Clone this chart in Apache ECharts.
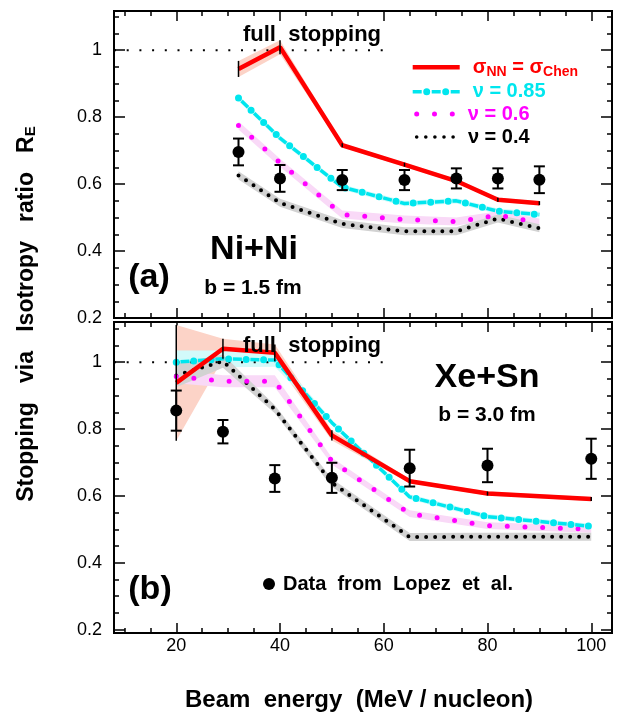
<!DOCTYPE html>
<html>
<head>
<meta charset="utf-8">
<script src="https://cdn.jsdelivr.net/npm/echarts@6/dist/echarts.min.js"></script>
<style>html,body{margin:0;padding:0;background:#fff}#c{width:628px;height:717px}</style>
</head>
<body>
<div id="c"></div>
<script>
// ---------- axes ----------
const X_MIN = 8, X_MAX = 104;
const xMajorTicks = [20, 40, 60, 80, 100];
const xMinorTicks = [10, 15, 25, 30, 35, 45, 50, 55, 65, 70, 75, 85, 90, 95];
const yMajorTicks = [0.2, 0.4, 0.6, 0.8, 1];
const yMinorTicks = [0.25, 0.3, 0.35, 0.45, 0.5, 0.55, 0.65, 0.7, 0.75, 0.85, 0.9, 0.95, 1.05, 1.1];
const fullStopLine = [[8, 1], [60, 1]];

// ---------- panel (a) Ni+Ni, b = 1.5 fm ----------
const energyA = [32, 40, 52, 64, 74, 82, 90];
const lopezA = [0.696, 0.617, 0.612, 0.612, 0.617, 0.617, 0.613];
const lopezErrA = [0.04, 0.04, 0.03, 0.03, 0.03, 0.03, 0.04];
const chenA = [0.944, 1.009, 0.716, 0.658, 0.609, 0.553, 0.543];
const chenErrA = [0.024, 0.021, 0.006, 0.006, 0.006, 0.006, 0.006];
const nu085A = [0.857, 0.737, 0.591, 0.542, 0.550, 0.519, 0.509];
const nu085ErrA = [0.008, 0.008, 0.008, 0.008, 0.008, 0.008, 0.008];
const nu06A = [0.775, 0.664, 0.509, 0.494, 0.488, 0.507, 0.485];
const nu06ErrA = [0.012, 0.012, 0.012, 0.012, 0.012, 0.012, 0.012];
const nu04A = [0.626, 0.544, 0.481, 0.459, 0.459, 0.497, 0.468];
const nu04ErrA = [0.012, 0.012, 0.012, 0.012, 0.012, 0.012, 0.012];

// ---------- panel (b) Xe+Sn, b = 3.0 fm ----------
const energyB = [20, 29, 39, 50, 65, 80, 100];
const lopezB = [0.855, 0.792, 0.652, 0.654, 0.683, 0.691, 0.711];
const lopezErrB = [0.06, 0.035, 0.04, 0.045, 0.055, 0.05, 0.06];
const chenB = [0.938, 1.040, 1.028, 0.781, 0.644, 0.607, 0.591];
const chenErrB = [0.173, 0.03, 0.025, 0.015, 0.006, 0.006, 0.006];
const nu085B = [1.000, 1.010, 1.006, 0.819, 0.597, 0.538, 0.509];
const nu085ErrB = [0.035, 0.025, 0.02, 0.008, 0.008, 0.008, 0.008];
const nu06B = [0.957, 0.943, 0.943, 0.704, 0.547, 0.511, 0.500];
const nu06ErrB = [0.02, 0.018, 0.018, 0.01, 0.01, 0.01, 0.01];
const nu04B = [0.960, 1.003, 0.859, 0.639, 0.477, 0.478, 0.478];
const nu04ErrB = [0.035, 0.02, 0.012, 0.012, 0.012, 0.012, 0.012];

// ---------- names ----------
const NAME_CHEN = 'σNN = σChen';
const NAME_85 = 'ν = 0.85';
const NAME_6 = 'ν = 0.6';
const NAME_4 = 'ν = 0.4';
const NAME_DATA = 'Data  from  Lopez  et  al.';

// ---------- styles ----------
const FONT = "'Liberation Sans', Arial, Helvetica, sans-serif";
const C_RED = '#ff0000', C_CYAN = '#00e6ee', C_MAG = '#ff00ff', C_BLK = '#000000';
const B_RED = '#fcd3c7', B_CYAN = '#d2fafa', B_MAG = '#f9d9f7', B_BLK = '#d2d2d2';

const zip = (xs, ys) => xs.map((x, i) => [x, ys[i]]);

function xAxesFor(g, showLabels) {
  const mk = (pos, vals, len, lab) => ({
    gridIndex: g, type: 'value', min: X_MIN, max: X_MAX, position: pos,
    axisLine: { show: false }, splitLine: { show: false }, minorTick: { show: false },
    axisTick: { show: true, inside: true, length: len, customValues: vals, lineStyle: { color: '#000', width: 1.5 } },
    axisLabel: lab ? { show: true, customValues: vals, fontSize: 18, color: '#000', fontFamily: FONT, margin: 4 } : { show: false }
  });
  return [mk('bottom', xMajorTicks, 10, showLabels), mk('bottom', xMinorTicks, 5, false),
          mk('top', xMajorTicks, 10, false), mk('top', xMinorTicks, 5, false)];
}
function yAxesFor(g, min, max) {
  const mk = (pos, vals, len, lab) => ({
    gridIndex: g, type: 'value', min: min, max: max, position: pos,
    axisLine: { show: false }, splitLine: { show: false }, minorTick: { show: false },
    axisTick: { show: true, inside: true, length: len, customValues: vals, lineStyle: { color: '#000', width: 1.5 } },
    axisLabel: lab ? { show: true, customValues: vals, fontSize: 18, color: '#000', fontFamily: FONT, margin: 12 } : { show: false }
  });
  return [mk('left', yMajorTicks, 11, true), mk('left', yMinorTicks, 5, false),
          mk('right', yMajorTicks, 11, false), mk('right', yMinorTicks, 5, false)];
}

function errBar(capHalf, lw) {
  return function (params, api) {
    const x = api.value(0), y = api.value(1), e = api.value(2);
    const t = api.coord([x, y + e]), b = api.coord([x, y - e]);
    const ch = [{ type: 'line', shape: { x1: t[0], y1: t[1], x2: b[0], y2: b[1] }, style: { stroke: '#000', lineWidth: lw } }];
    if (capHalf > 0) {
      ch.push({ type: 'line', shape: { x1: t[0] - capHalf, y1: t[1], x2: t[0] + capHalf, y2: t[1] }, style: { stroke: '#000', lineWidth: lw } });
      ch.push({ type: 'line', shape: { x1: b[0] - capHalf, y1: b[1], x2: b[0] + capHalf, y2: b[1] }, style: { stroke: '#000', lineWidth: lw } });
    }
    return { type: 'group', children: ch };
  };
}

function bandRender(color) {
  return function (params, api) {
    if (params.dataIndexInside !== 0) return null;
    const n = params.dataInsideLength;
    const up = [], lo = [];
    for (let j = 0; j < n; j++) {
      up.push(api.coord([api.value(0, j), api.value(2, j)]));
      lo.push(api.coord([api.value(0, j), api.value(1, j)]));
    }
    return { type: 'polygon', shape: { points: up.concat(lo.reverse()) }, style: { fill: color } };
  };
}

function panelSeries(g, E, lop, lopErr, chen, chenErr, n85, n85Err, n6, n6Err, n4, n4Err, names) {
  const ax = { xAxisIndex: 4 * g, yAxisIndex: 4 * g, animation: false, silent: true };
  const out = [];
  const band = (vals, errs, color, key) => {
    out.push(Object.assign({ type: 'custom', name: key, renderItem: bandRender(color),
      data: E.map((x, i) => [x, vals[i] - errs[i], vals[i] + errs[i]]), encode: { x: 0, y: [1, 2] }, z: 1 }, ax));
  };
  band(chen, chenErr, B_RED, 'bandChen' + g);
  band(n85, n85Err, B_CYAN, 'band85' + g);
  band(n6, n6Err, B_MAG, 'band6' + g);
  band(n4, n4Err, B_BLK, 'band4' + g);
  out.push(Object.assign({ type: 'line', name: 'full' + g, data: fullStopLine, symbol: 'none',
    lineStyle: { color: '#000', width: 2, type: [2, 10.7] }, z: 2 }, ax));
  out.push(Object.assign({ type: 'line', name: names.n4, data: zip(E, n4), symbol: 'none',
    itemStyle: { color: C_BLK }, lineStyle: { color: C_BLK, width: 4, type: [0, 9], cap: 'round' }, z: 3 }, ax));
  out.push(Object.assign({ type: 'line', name: names.n6, data: zip(E, n6), symbol: 'none',
    itemStyle: { color: C_MAG }, lineStyle: { color: C_MAG, width: 5, type: [0, 17.7], cap: 'round' }, z: 4 }, ax));
  out.push(Object.assign({ type: 'line', name: names.n85 + '_dash', data: zip(E, n85), symbol: 'none',
    itemStyle: { color: C_CYAN }, lineStyle: { color: C_CYAN, width: 3.5, type: [9, 8.5], dashOffset: 13.25 }, z: 5 }, ax));
  out.push(Object.assign({ type: 'line', name: names.n85, data: zip(E, n85), symbol: 'none',
    itemStyle: { color: C_CYAN }, lineStyle: { color: C_CYAN, width: 7, type: [0, 17.5], cap: 'round' }, z: 5 }, ax));
  out.push(Object.assign({ type: 'line', name: names.chen, data: zip(E, chen), symbol: 'none',
    itemStyle: { color: C_RED }, lineStyle: { color: C_RED, width: 4.5 }, z: 6 }, ax));
  out.push(Object.assign({ type: 'custom', name: 'chenErr' + g, renderItem: errBar(0, 1.5),
    data: E.map((x, i) => [x, chen[i], chenErr[i]]), encode: { x: 0, y: 1 }, z: 7 }, ax));
  out.push(Object.assign({ type: 'custom', name: 'lopErr' + g, renderItem: errBar(5.5, 2),
    data: E.map((x, i) => [x, lop[i], lopErr[i]]), encode: { x: 0, y: 1 }, z: 8 }, ax));
  out.push(Object.assign({ type: 'scatter', name: names.data, data: zip(E, lop), symbol: 'circle', symbolSize: 12,
    itemStyle: { color: '#000', opacity: 1 }, z: 9 }, ax));
  return out;
}

const seriesA = panelSeries(0, energyA, lopezA, lopezErrA, chenA, chenErrA, nu085A, nu085ErrA, nu06A, nu06ErrA, nu04A, nu04ErrA,
  { chen: NAME_CHEN, n85: NAME_85, n6: NAME_6, n4: NAME_4, data: 'lopezA' });
const seriesB = panelSeries(1, energyB, lopezB, lopezErrB, chenB, chenErrB, nu085B, nu085ErrB, nu06B, nu06ErrB, nu04B, nu04ErrB,
  { chen: 'chenB', n85: 'n85B', n6: 'n6B', n4: 'n4B', data: NAME_DATA });

function oneLegend(name, icon, left, centerY, w, h, color, fmt, rich) {
  return {
    show: true, orient: 'vertical', left: left, top: centerY - 12, padding: 0,
    itemWidth: w, itemHeight: h, selectedMode: false, itemStyle: { borderWidth: 0, opacity: 1 },
    data: [{ name: name, icon: icon }],
    formatter: fmt,
    textStyle: { color: color, fontSize: 20, fontWeight: 'bold', fontFamily: FONT, lineHeight: 24, rich: rich }
  };
}
const richBase = (color) => ({
  g: { width: 8, fontSize: 20, lineHeight: 24 },
  t: { color: color, fontSize: 20, fontWeight: 'bold', fontFamily: FONT, lineHeight: 24 },
  sub: { color: color, fontSize: 14, fontWeight: 'bold', fontFamily: FONT, lineHeight: 14, verticalAlign: 'bottom' }
});

const ICON_CYAN = 'path://M0,1.75H9V5.25H0Z M19,1.75H28V5.25H19Z M38,1.75H47V5.25H38Z ' +
  'M10.5,3.5A3.5,3.5 0 1,0 17.5,3.5A3.5,3.5 0 1,0 10.5,3.5Z M29.5,3.5A3.5,3.5 0 1,0 36.5,3.5A3.5,3.5 0 1,0 29.5,3.5Z';
const ICON_MAG = 'path://M0,2.5A2.5,2.5 0 1,0 5,2.5A2.5,2.5 0 1,0 0,2.5Z M17.8,2.5A2.5,2.5 0 1,0 22.8,2.5A2.5,2.5 0 1,0 17.8,2.5Z M35.6,2.5A2.5,2.5 0 1,0 40.6,2.5A2.5,2.5 0 1,0 35.6,2.5Z';
const ICON_BLK = 'path://M0,1.8A1.8,1.8 0 1,0 3.6,1.8A1.8,1.8 0 1,0 0,1.8Z M9.1,1.8A1.8,1.8 0 1,0 12.7,1.8A1.8,1.8 0 1,0 9.1,1.8Z M18.2,1.8A1.8,1.8 0 1,0 21.8,1.8A1.8,1.8 0 1,0 18.2,1.8Z M27.3,1.8A1.8,1.8 0 1,0 30.9,1.8A1.8,1.8 0 1,0 27.3,1.8Z M36.4,1.8A1.8,1.8 0 1,0 40,1.8A1.8,1.8 0 1,0 36.4,1.8Z';

const legends = [
  oneLegend(NAME_CHEN, 'rect', 412.7, 67.3, 47, 4.5, C_RED,
    '{g| }{t|σ}{sub|NN}{t| = σ}{sub|Chen}', richBase(C_RED)),
  oneLegend(NAME_85, ICON_CYAN, 412.7, 91.7, 47, 7, C_CYAN, '{g| }{t|ν = 0.85}', richBase(C_CYAN)),
  oneLegend(NAME_6, ICON_MAG, 414.2, 114, 40.6, 5, C_MAG, '{g| }{t|ν = 0.6}', richBase(C_MAG)),
  oneLegend(NAME_4, ICON_BLK, 414.9, 137, 40, 3.6, C_BLK, '{g| }{t|ν = 0.4}', richBase(C_BLK)),
  {
    show: true, orient: 'vertical', left: 263, top: 573, padding: 0, itemWidth: 12, itemHeight: 12,
    selectedMode: false, itemStyle: { borderWidth: 0, opacity: 1 }, data: [{ name: NAME_DATA, icon: 'circle' }],
    formatter: '{g| }{t|{name}}',
    textStyle: { color: '#000', fontSize: 20, fontWeight: 'bold', fontFamily: FONT, lineHeight: 22,
      rich: { g: { width: 3, fontSize: 20, lineHeight: 22 }, t: { color: '#000', fontSize: 20, fontWeight: 'bold', fontFamily: FONT, lineHeight: 22 } } }
  }
];

const txt = (text, x, y, size) => ({
  type: 'text', silent: true, z: 100,
  style: { text: text, x: x, y: y, fill: '#000', align: 'center', verticalAlign: 'middle',
    font: 'bold ' + size + 'px ' + FONT }
});

const graphics = [
  txt('full  stopping', 312, 35, 22),
  txt('full  stopping', 312, 346, 22),
  txt('Ni+Ni', 254, 250, 34),
  txt('(a)', 149, 278, 34),
  txt('b = 1.5 fm', 253, 288, 21),
  txt('Xe+Sn', 487, 378, 34),
  txt('b = 3.0 fm', 487, 415, 21),
  txt('(b)', 150, 590, 34),
  txt('Beam  energy  (MeV / nucleon)', 359, 700, 24),
  {
    type: 'text', silent: true, z: 100, x: 27, y: 314, rotation: Math.PI / 2,
    style: {
      text: 'Stopping   via   Isotropy   ratio   R{sub|E}', x: 0, y: 0, fill: '#000', align: 'center', verticalAlign: 'middle',
      font: 'bold 23px ' + FONT,
      rich: { sub: { fontSize: 15, fontWeight: 'bold', fontFamily: FONT, fill: '#000', lineHeight: 15, verticalAlign: 'bottom' } }
    }
  }
];

const chart = echarts.init(document.getElementById('c'), null, { renderer: 'canvas' });
chart.setOption({
  animation: false,
  backgroundColor: '#fff',
  textStyle: { fontFamily: FONT },
  tooltip: { show: false },
  grid: [
    { left: 114, right: 16, top: 11, height: 307, show: true, borderColor: '#000', borderWidth: 2, backgroundColor: 'transparent', containLabel: false, outerBoundsMode: 'none' },
    { left: 114, right: 16, top: 322, height: 311, show: true, borderColor: '#000', borderWidth: 2, backgroundColor: 'transparent', containLabel: false, outerBoundsMode: 'none' }
  ],
  xAxis: xAxesFor(0, false).concat(xAxesFor(1, true)),
  yAxis: yAxesFor(0, 0.2, 1.117).concat(yAxesFor(1, 0.19, 1.12)),
  legend: legends,
  graphic: graphics,
  series: seriesA.concat(seriesB)
});
</script>
</body>
</html>
